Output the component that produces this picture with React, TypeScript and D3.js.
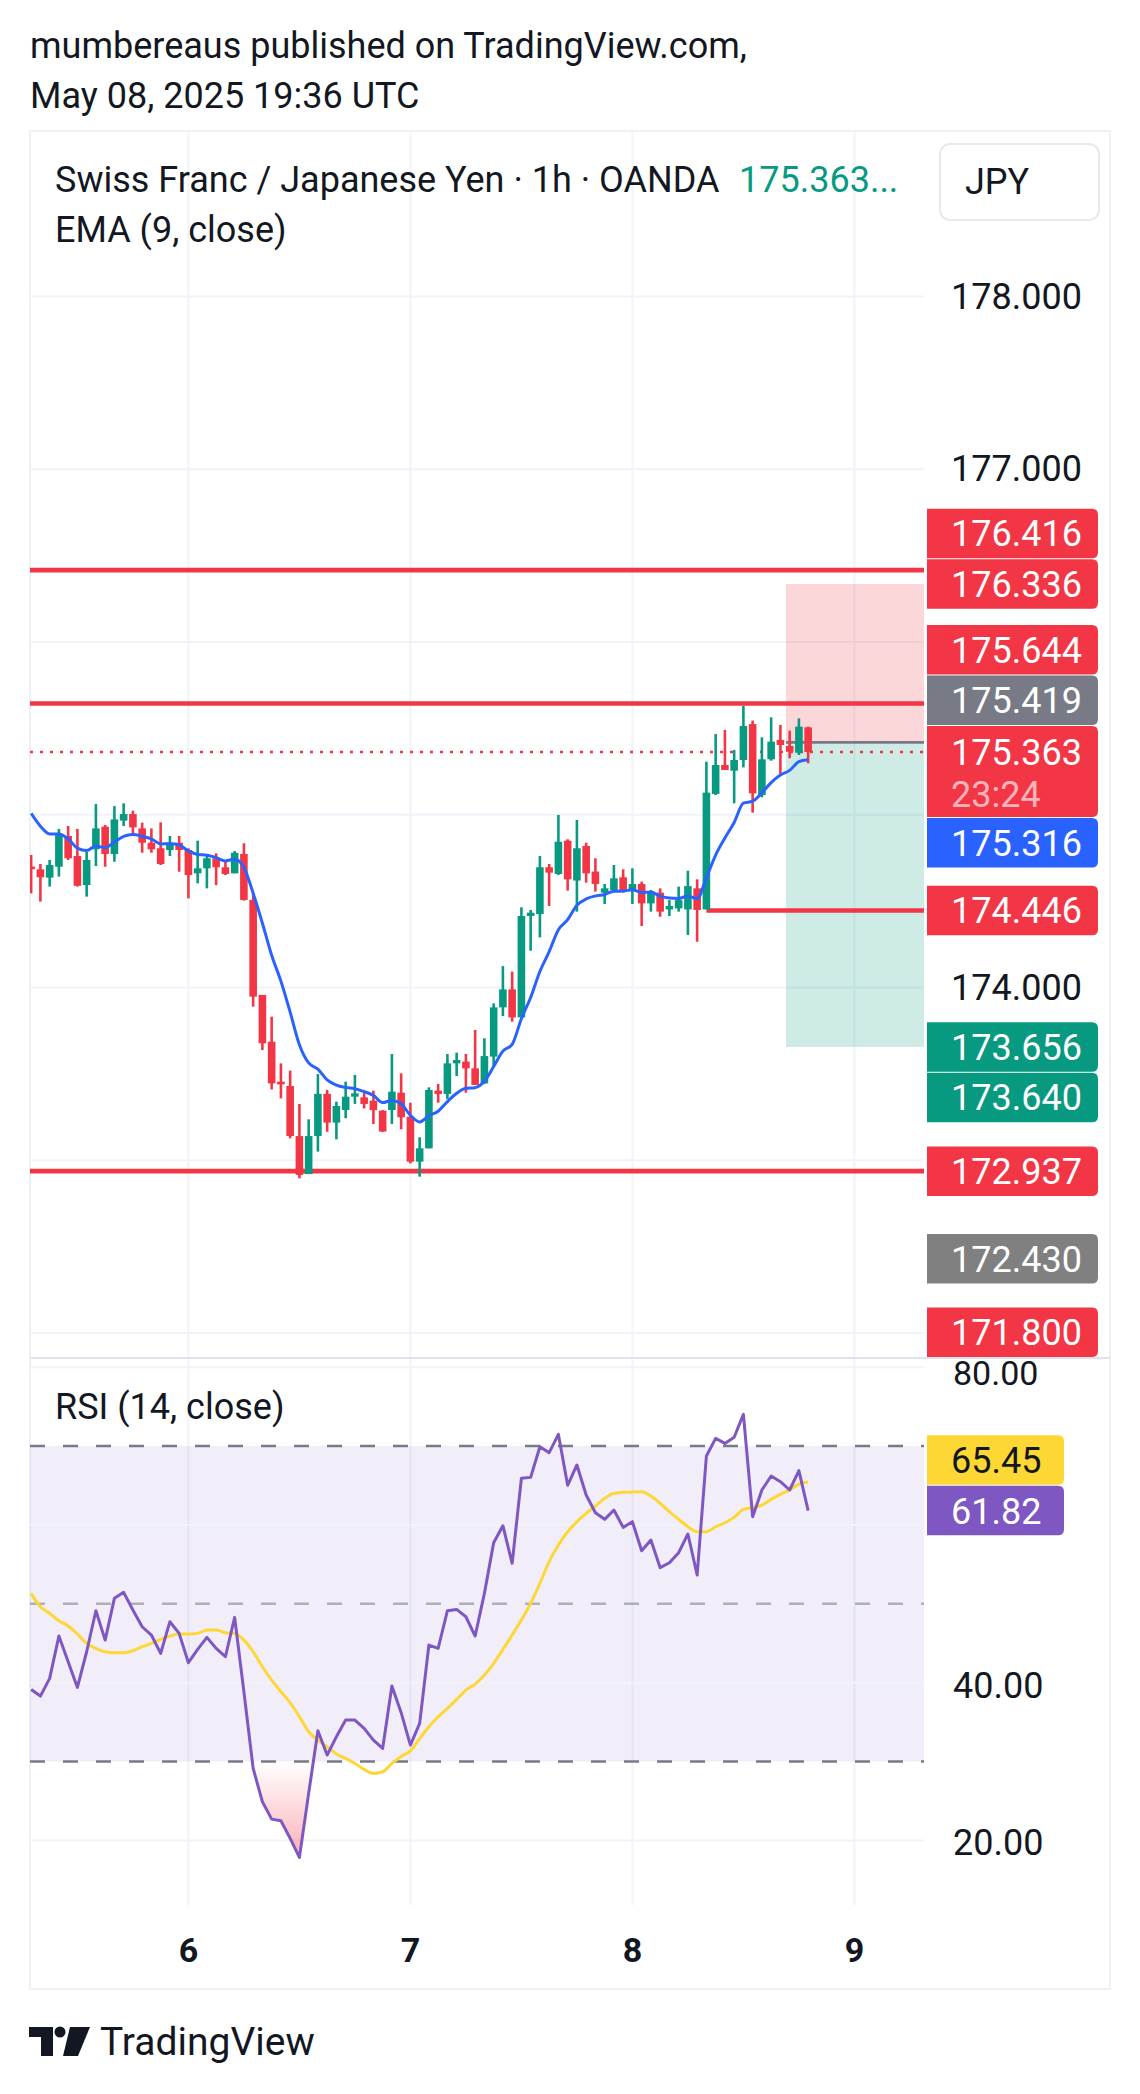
import React from 'react';
import * as d3 from 'd3';

// ---------- data ----------
const firstBarHour = -17; // hours relative to May 6 00:00 UTC
const opens = [174.700,174.684,174.636,174.699,174.877,174.761,174.593,174.800,174.931,174.773,174.966,175.004,174.921,174.838,174.806,174.796,174.838,
  174.796,174.661,174.690,174.748,174.696,174.661,174.773,174.507,173.957,173.686,173.455,173.430,173.140,172.920,173.140,173.384,173.218,173.291,173.368,173.364,173.345,173.287,173.291,173.391,
  173.252,172.992,173.069,173.403,173.384,173.561,173.571,173.532,173.445,173.600,173.885,173.989,173.827,174.414,174.425,174.696,174.657,174.850,174.619,174.819,174.671,174.549,174.564,174.638,
  174.564,174.599,174.487,174.549,174.452,174.458,174.452,174.574,174.452,175.120,175.288,175.255,175.317,175.525,175.114,175.321,175.433,175.398,175.359,175.506];
const highs = [174.767,174.715,174.738,174.918,174.935,174.918,174.786,175.062,174.941,175.050,175.066,175.024,174.954,174.921,174.956,174.877,174.877,
  174.806,174.850,174.767,174.777,174.738,174.790,174.835,174.549,173.957,173.831,173.561,173.519,173.326,173.237,173.499,173.407,173.339,173.455,173.494,173.403,173.403,173.290,173.615,173.503,
  173.333,173.133,173.422,173.441,173.615,173.623,173.615,173.754,173.706,173.908,174.124,174.092,174.464,174.449,174.761,174.715,174.999,174.858,174.970,174.838,174.748,174.599,174.709,174.684,
  174.690,174.613,174.564,174.574,174.506,174.584,174.676,174.626,175.307,175.467,175.491,175.375,175.630,175.545,175.448,175.564,175.520,175.487,175.558,175.510];
const lows = [174.545,174.497,174.584,174.642,174.738,174.584,174.526,174.703,174.699,174.728,174.935,174.877,174.780,174.780,174.709,174.761,174.670,
  174.516,174.603,174.574,174.593,174.651,174.661,174.503,173.889,173.638,173.410,173.358,173.127,172.895,172.920,173.050,173.165,173.121,173.243,173.326,173.300,173.210,173.165,173.210,173.179,
  172.982,172.905,173.069,173.333,173.353,173.488,173.391,173.436,173.441,173.538,173.835,173.802,173.827,174.213,174.290,174.472,174.651,174.561,174.439,174.607,174.555,174.483,174.561,174.549,
  174.483,174.356,174.439,174.410,174.414,174.439,174.304,174.265,174.452,175.114,175.259,175.066,175.274,175.012,175.101,175.313,175.236,175.327,175.346,175.298];
const closes = [174.685,174.638,174.709,174.889,174.748,174.589,174.738,174.921,174.773,174.973,175.004,174.927,174.838,174.800,174.715,174.838,174.796,
  174.651,174.690,174.748,174.696,174.657,174.780,174.507,173.947,173.677,173.445,173.439,173.140,172.915,173.140,173.384,173.218,173.314,173.368,173.387,173.326,173.290,173.166,173.397,173.249,
  172.992,173.069,173.407,173.384,173.561,173.580,173.532,173.436,173.603,173.885,173.989,173.827,174.414,174.433,174.696,174.665,174.844,174.626,174.806,174.661,174.599,174.574,174.632,174.561,
  174.599,174.487,174.555,174.439,174.472,174.506,174.587,174.449,175.128,175.288,175.259,175.317,175.514,175.124,175.321,175.423,175.404,175.365,175.510,175.363];
const emaSeed = 175.008; // EMA(9) value at the first visible bar

const rsiValues = [39.14,38.30,40.54,45.91,42.65,39.40,43.92,49.12,45.40,50.69,51.45,49.21,47.09,46.04,43.71,47.73,46.25,
  42.53,44.22,45.74,44.35,43.29,48.28,38.85,29.13,24.90,22.70,22.49,20.25,17.84,25.96,33.91,30.82,33.14,35.26,35.26,34.20,32.72,31.66,39.57,36.20,
  32.09,34.84,44.77,44.35,49.12,49.29,48.36,45.91,51.32,57.75,59.90,55.13,65.91,66.03,69.92,69.16,71.49,65.02,67.60,63.79,61.55,60.71,61.89,59.69,
  60.41,56.73,58.08,54.58,55.21,56.48,58.85,53.65,68.74,70.98,70.34,71.11,74.02,61.04,64.43,66.20,65.48,64.43,66.88,61.82];
const rsiMaValues = [51.32,49.63,48.79,47.86,47.18,46.16,44.98,44.35,43.92,43.80,43.80,44.05,44.56,44.98,45.49,45.91,46.16,
  46.16,46.25,46.67,46.67,46.33,46.25,45.40,43.92,42.02,40.33,38.85,37.46,35.68,33.78,32.72,31.88,30.95,30.40,29.76,29.00,28.49,28.70,29.76,30.65,
  31.35,32.90,34.41,35.68,36.73,37.88,39.06,39.82,40.96,42.44,44.22,46.04,47.94,50.05,52.59,55.34,57.45,59.14,60.41,61.47,62.40,63.37,64.00,64.13,
  64.17,64.21,63.66,62.73,61.68,60.71,59.78,59.14,59.14,59.78,60.28,60.96,61.97,62.19,62.52,63.24,63.88,64.43,65.19,65.45];

const priceTicks = [172, 173, 174, 175, 176, 177, 178];
const rsiTicks = [20, 40, 60, 80];
const dayHours = [0, 24, 48, 72];
const dayLabels = ['6', '7', '8', '9'];

const hLevels = [176.416, 175.644, 172.937];
const supportLevel = 174.446;
const supportStartHour = 56;
const positionStartHour = 64.6;
const stopPrice = 176.336;
const entryPrice = 175.419;
const targetPrice = 173.656;
const lastPrice = 175.363;
const countdown = '23:24';

const labelValues = [176.416, 176.336, 175.644, 175.419, 175.363, 175.316, 174.446, 173.656, 173.640, 172.937, 172.430, 171.800];
const labelColors = ['#F23645', '#F23645', '#F23645', '#787B86', '#F23645', '#2962FF', '#F23645', '#089981', '#089981', '#F23645', '#808080', '#F23645'];
const rsiLabelValues = [65.45, 61.82];
const rsiLabelColors = ['#FDD835', '#7E57C2'];
const rsiLabelText = ['#131722', '#FFFFFF'];

// ---------- layout ----------
const W = 1140, H = 2094;
const L = 30, PR = 924, OR = 1110;
const TOP = 131, PB = 1357, RB = 1905, BOTTOM = 1989;
const UP = '#089981', DOWN = '#F23645';
const FONT = 'Roboto, "Noto Sans", sans-serif';
const GRID = '#F0F3FA';
const FS = 36;
const LH = 49.5;

const x = d3.scaleLinear().domain([0, 24]).range([188.4, 410.4]);
const yP = d3.scaleLinear().domain([172, 178]).range([296.5 + 6 * 172.75, 296.5]);
const yR = d3.scaleLinear().domain([20, 80]).range([1840.4, 1367.2]);

const bars = closes.map((c, i) => ({ h: firstBarHour + i, o: opens[i], hi: highs[i], lo: lows[i], c }));
const ema: number[] = [];
closes.forEach((c, i) => { ema.push(i === 0 ? emaSeed : ema[i - 1] + (2 / 10) * (c - ema[i - 1])); });

function rightBox(x0: number, y0: number, w: number, h: number, r: number) {
  return `M${x0},${y0} H${x0 + w - r} Q${x0 + w},${y0} ${x0 + w},${y0 + r} V${y0 + h - r} Q${x0 + w},${y0 + h} ${x0 + w - r},${y0 + h} H${x0} Z`;
}

function layoutLabels() {
  const ci = labelValues.indexOf(lastPrice);
  const res: { top: number; bottom: number }[] = labelValues.map(() => ({ top: 0, bottom: 0 }));
  const yc = yP(lastPrice);
  res[ci] = { top: yc - 26, bottom: yc + 65 };
  for (let i = ci - 1; i >= 0; i--) {
    const b = Math.min(yP(labelValues[i]) + LH / 2, res[i + 1].top - 1);
    res[i] = { top: b - LH, bottom: b };
  }
  for (let i = ci + 1; i < labelValues.length; i++) {
    let t = Math.max(yP(labelValues[i]) - LH / 2, res[i - 1].bottom + 1);
    if (t + LH > PB) t = PB - LH;
    res[i] = { top: t, bottom: t + LH };
  }
  return res;
}

function hidden(y: number, boxes: { top: number; bottom: number }[]) {
  return boxes.some((b) => y + 13 > b.top && y - 13 < b.bottom);
}

export default function App() {
  const labels = layoutLabels();
  const emaLine = d3.line<number>().x((_, i) => x(bars[i].h)).y((v) => yP(v)).curve(d3.curveMonotoneX)(ema) || '';
  const rsiLine = d3.line<number>().x((_, i) => x(bars[i].h)).y((v) => yR(v))(rsiValues) || '';
  const maLine = d3.line<number>().x((_, i) => x(bars[i].h)).y((v) => yR(v)).curve(d3.curveMonotoneX)(rsiMaValues) || '';
  const oversold = d3.area<number>().x((_, i) => x(bars[i].h)).y0(yR(30)).y1((v) => yR(v))(rsiValues) || '';
  const bodyW = 7.6;
  const r1 = yR(rsiLabelValues[0]), r2 = yR(rsiLabelValues[1]);
  const rl2 = { top: r2 - LH / 2, bottom: r2 + LH / 2 };
  const rl1top = Math.min(r1 - LH / 2, rl2.top - 1 - LH);
  const rsiLbl = [{ top: rl1top, bottom: rl1top + LH }, rl2];

  return (
    <svg width={W} height={H} style={{ position: 'absolute', left: 0, top: 0, background: '#fff' }} fontFamily={FONT}>
      <defs>
        <clipPath id="pp"><rect x={L} y={TOP} width={PR - L} height={PB - TOP} /></clipPath>
        <clipPath id="rp"><rect x={L} y={PB} width={PR - L} height={RB - PB} /></clipPath>
        <clipPath id="rax"><rect x={PR} y={PB + 2} width={OR - PR} height={RB - PB} /></clipPath>
        <clipPath id="below30"><rect x={L} y={yR(30)} width={PR - L} height={RB - yR(30)} /></clipPath>
        <linearGradient id="osg" gradientUnits="userSpaceOnUse" x1="0" y1={yR(30)} x2="0" y2={yR(17)}>
          <stop offset="0" stopColor="#F23645" stopOpacity={0} />
          <stop offset="1" stopColor="#F23645" stopOpacity={0.42} />
        </linearGradient>
      </defs>
      <rect x={0} y={0} width={W} height={H} fill="#fff" />

      {/* header */}
      <text x={30} y={58} fontSize={FS} fill="#131722">mumbereaus published on TradingView.com,</text>
      <text x={30} y={108} fontSize={FS} fill="#131722">May 08, 2025 19:36 UTC</text>

      {/* chart frame */}
      <rect x={L} y={TOP} width={OR - L} height={BOTTOM - TOP} fill="none" stroke="#EEF0F4" strokeWidth={2} />

      {/* vertical grid */}
      {dayHours.map((d) => (
        <line key={d} x1={x(d)} x2={x(d)} y1={TOP} y2={RB} stroke={GRID} strokeWidth={2} />
      ))}

      {/* price pane */}
      <g clipPath="url(#pp)">
        {priceTicks.map((p) => (
          <line key={p} x1={L} x2={PR} y1={yP(p)} y2={yP(p)} stroke={GRID} strokeWidth={2} />
        ))}
        <rect x={x(positionStartHour)} y={yP(stopPrice)} width={PR - x(positionStartHour)} height={yP(entryPrice) - yP(stopPrice)} fill="#F23645" fillOpacity={0.2} />
        <rect x={x(positionStartHour)} y={yP(entryPrice)} width={PR - x(positionStartHour)} height={yP(targetPrice) - yP(entryPrice)} fill="#089981" fillOpacity={0.2} />
        <line x1={x(positionStartHour)} x2={PR} y1={yP(entryPrice)} y2={yP(entryPrice)} stroke="#787B86" strokeWidth={2.6} />
        {hLevels.map((p) => (
          <line key={p} x1={L} x2={PR} y1={yP(p)} y2={yP(p)} stroke="#F23645" strokeWidth={4.6} />
        ))}
        <line x1={x(supportStartHour)} x2={PR} y1={yP(supportLevel)} y2={yP(supportLevel)} stroke="#F23645" strokeWidth={4.6} />
        <line x1={L} x2={PR} y1={yP(lastPrice)} y2={yP(lastPrice)} stroke="#F23645" strokeWidth={2.6} strokeDasharray="3 7" />
        {bars.map((b) => {
          const col = b.c >= b.o ? UP : DOWN;
          const top = yP(Math.max(b.o, b.c));
          const bot = yP(Math.min(b.o, b.c));
          return (
            <g key={b.h}>
              <line x1={x(b.h)} x2={x(b.h)} y1={yP(b.hi)} y2={yP(b.lo)} stroke={col} strokeWidth={2.6} />
              <rect x={x(b.h) - bodyW / 2} y={top} width={bodyW} height={Math.max(bot - top, 2)} fill={col} />
            </g>
          );
        })}
        <path d={emaLine} fill="none" stroke="#2962FF" strokeWidth={3} />
      </g>

      {/* legend */}
      <text x={55} y={192} fontSize={FS} fill="#131722">Swiss Franc / Japanese Yen · 1h · OANDA</text>
      <text x={739} y={192} fontSize={FS} fill="#089981">175.363...</text>
      <text x={55} y={242} fontSize={FS} fill="#131722">EMA (9, close)</text>
      <rect x={940} y={144} width={159} height={76} rx={10} fill="#fff" stroke="#E6E9EF" strokeWidth={2} />
      <text x={965} y={182} fontSize={FS} fill="#131722" dominantBaseline="central">JPY</text>

      {/* price axis */}
      {priceTicks.filter((p) => !hidden(yP(p), labels)).map((p) => (
        <text key={p} x={951} y={yP(p)} fontSize={FS} fill="#131722" dominantBaseline="central">{p.toFixed(3)}</text>
      ))}
      <line x1={L} x2={OR} y1={PB + 1} y2={PB + 1} stroke="#E0E3EB" strokeWidth={2} />

      {/* rsi pane */}
      <g clipPath="url(#rp)">
        <rect x={L} y={yR(70)} width={PR - L} height={yR(30) - yR(70)} fill="#7E57C2" fillOpacity={0.1} />
        {rsiTicks.map((v) => (
          <line key={v} x1={L} x2={PR} y1={yR(v)} y2={yR(v)} stroke={GRID} strokeWidth={2} />
        ))}
        <line x1={L} x2={PR} y1={yR(70)} y2={yR(70)} stroke="#787B86" strokeWidth={2.6} strokeDasharray="15 18" />
        <line x1={L} x2={PR} y1={yR(50)} y2={yR(50)} stroke="#787B86" strokeOpacity={0.55} strokeWidth={2.6} strokeDasharray="15 18" />
        <line x1={L} x2={PR} y1={yR(30)} y2={yR(30)} stroke="#787B86" strokeWidth={2.6} strokeDasharray="15 18" />
        <path d={oversold} fill="url(#osg)" clipPath="url(#below30)" />
        <path d={maLine} fill="none" stroke="#FDD835" strokeWidth={3} />
        <path d={rsiLine} fill="none" stroke="#7E57C2" strokeWidth={3} strokeLinejoin="round" />
      </g>
      <text x={55} y={1419} fontSize={FS} fill="#131722">RSI (14, close)</text>
      <g clipPath="url(#rax)">
        {rsiTicks.filter((v) => !hidden(yR(v), rsiLbl)).map((v) => (
          <text key={v} x={953} y={yR(v) + (v === 80 ? 6 : 3)} fontSize={v === 80 ? 34 : FS} fill="#131722" dominantBaseline="central">{v.toFixed(2)}</text>
        ))}
      </g>

      {/* price labels */}
      {labelValues.map((v, i) => {
        const lb = labels[i];
        const isLast = v === lastPrice;
        return (
          <g key={v}>
            <path d={rightBox(927, lb.top, 171, lb.bottom - lb.top, 6)} fill={labelColors[i]} />
            <text x={951} y={isLast ? yP(v) + 1 : (lb.top + lb.bottom) / 2 + 1} fontSize={FS} fill="#fff" dominantBaseline="central">{v.toFixed(3)}</text>
            {isLast && (
              <text x={951} y={yP(v) + 43} fontSize={FS} fill="#fff" fillOpacity={0.65} dominantBaseline="central">{countdown}</text>
            )}
          </g>
        );
      })}
      {rsiLabelValues.map((v, i) => (
        <g key={v}>
          <path d={rightBox(927, rsiLbl[i].top, 137, LH, 6)} fill={rsiLabelColors[i]} />
          <text x={951} y={(rsiLbl[i].top + rsiLbl[i].bottom) / 2 + 1} fontSize={FS} fill={rsiLabelText[i]} dominantBaseline="central">{v.toFixed(2)}</text>
        </g>
      ))}

      {/* time axis */}
      {dayHours.map((d, i) => (
        <text key={d} x={x(d)} y={1950} fontSize={34} fontWeight="bold" fill="#131722" textAnchor="middle" dominantBaseline="central">{dayLabels[i]}</text>
      ))}

      {/* footer logo */}
      <g fill="#131722">
        <path d="M29,2027 H53 V2056 H41 V2037 H29 Z" />
        <circle cx={60} cy={2032} r={5.5} />
        <path d="M70,2027 H90 L78,2056 H63 Z" />
      </g>
      <text x={100} y={2055} fontSize={39} fill="#131722">TradingView</text>
    </svg>
  );
}
